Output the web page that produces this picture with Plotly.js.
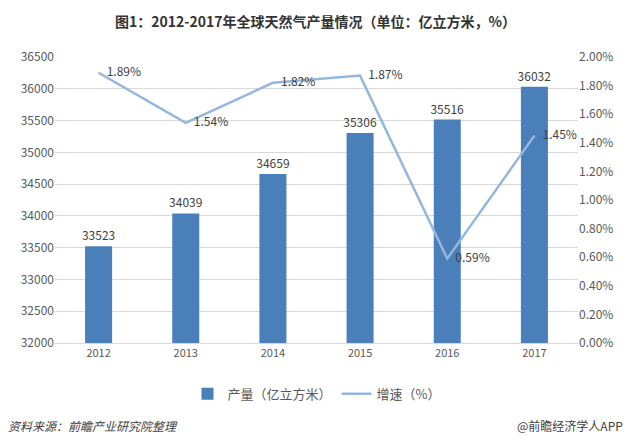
<!DOCTYPE html>
<html><head><meta charset="utf-8">
<script src="https://cdn.plot.ly/plotly-3.0.1.min.js"></script>
<style>html,body{margin:0;padding:0;background:#fff;}#chart{width:631px;height:445px;}</style>
</head><body><div id="chart"></div>
<script>
var years = ['2012','2013','2014','2015','2016','2017'];
var output = [33523, 34039, 34659, 35306, 35516, 36032];
var growth = [1.89, 1.54, 1.82, 1.87, 0.59, 1.45];
var leftTicks = [32000,32500,33000,33500,34000,34500,35000,35500,36000,36500];
var rightTicks = [0,0.2,0.4,0.6,0.8,1.0,1.2,1.4,1.6,1.8,2.0];

var font = '"Noto Sans CJK SC", "Microsoft YaHei", sans-serif';
var traces = [
  {type:'bar', x:years, y:output, name:'产量（亿立方米）',
   marker:{color:'#4a7fb9'}, width:0.31,
   text:output.map(String), textposition:'outside', cliponaxis:false, constraintext:'none',
   textfont:{size:12, color:'#404040', family:font}},
  {type:'scatter', mode:'lines+text', x:years, y:growth, yaxis:'y2', name:'增速（%）',
   line:{color:'#94b8dd', width:2.5},
   text:growth.map(function(v){return '\u00a0\u00a0\u00a0'+v.toFixed(2)+'%';}), textposition:'middle right',
   textfont:{size:12, color:'#404040', family:font}, cliponaxis:false}
];
var layout = {
  width:631, height:445,
  margin:{l:55, r:53, t:57, b:102},
  paper_bgcolor:'#fff', plot_bgcolor:'#fff',
  font:{family:font, color:'#595959', size:12},
  title:{text:'<b>图1：2012-2017年全球天然气产量情况（单位：亿立方米，%）</b>', x:0.5, xanchor:'center', y:0.95, yanchor:'middle', font:{size:14, color:'#333'}},
  xaxis:{type:'category', showgrid:false, showline:true, linecolor:'#d9d9d9', ticks:'', tickfont:{size:11, color:'#595959'}},
  yaxis:{range:[32000,36500], tickvals:leftTicks, ticktext:leftTicks.map(String), showgrid:true, gridcolor:'#d9d9d9', zeroline:false, tickfont:{size:12, color:'#595959'}, ticks:''},
  yaxis2:{overlaying:'y', side:'right', range:[0,2.0], tickvals:rightTicks, ticktext:rightTicks.map(function(v){return v.toFixed(2)+'%';}), showgrid:false, zeroline:false, tickfont:{size:12, color:'#595959'}, ticks:''},
  showlegend:true,
  legend:{orientation:'h', x:0.5, xanchor:'center', y:-0.125, yanchor:'top', font:{size:13, color:'#595959'}},
  annotations:[
    {text:'<i>资料来源：前瞻产业研究院整理</i>', xref:'paper', yref:'paper', x:-0.094, xanchor:'left', y:-0.287, yanchor:'middle', showarrow:false, font:{size:12, color:'#404040'}},
    {text:'@前瞻经济学人APP', xref:'paper', yref:'paper', x:1.09, xanchor:'right', y:-0.287, yanchor:'middle', showarrow:false, font:{size:12, color:'#404040'}}
  ]
};
Plotly.newPlot('chart', traces, layout, {displayModeBar:false, staticPlot:true});
</script></body></html>
